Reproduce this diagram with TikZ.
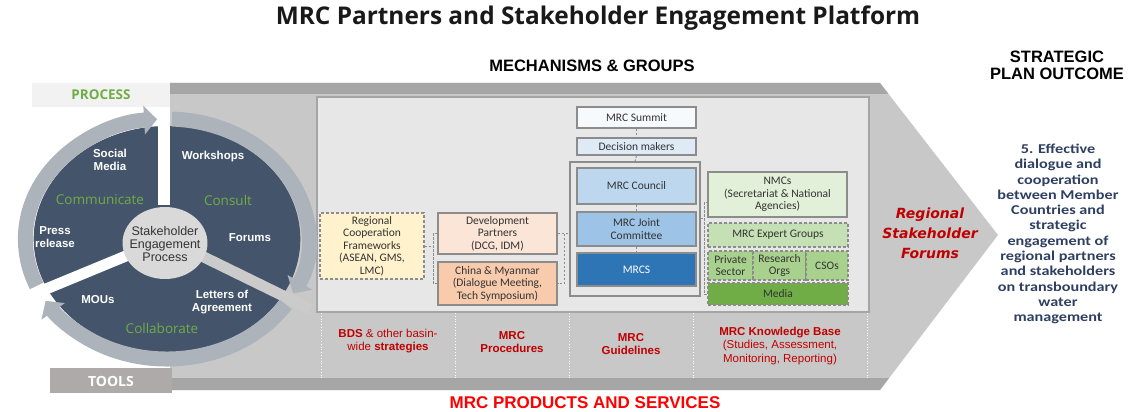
\documentclass[tikz,border=0pt]{standalone}
\usepackage{fontspec}
\usetikzlibrary{arrows.meta,calc}
\setmainfont{Carlito}
\newfontfamily\opensans{Open Sans}
\newfontfamily\arialfont{Liberation Sans}
\newfontfamily\verdfont{DejaVu Sans}
\newfontfamily\widecarlito[FakeStretch=1.2]{Carlito}
\definecolor{wheeldark}{HTML}{44546A}
\definecolor{ringgray}{HTML}{ADB3BB}
\definecolor{bodygray}{HTML}{C8C8C8}
\definecolor{stripgray}{HTML}{A6A6A6}
\definecolor{innerfill}{HTML}{E7E7E7}
\definecolor{innerline}{HTML}{A5A5A5}
\definecolor{boxline}{HTML}{8C8C8C}
\definecolor{boxtext}{HTML}{333333}
\definecolor{linkgray}{HTML}{8C8C8C}
\definecolor{greenword}{HTML}{70AD47}
\definecolor{prodred}{HTML}{C00000}
\definecolor{navytext}{HTML}{2E3F62}
\definecolor{centerfill}{HTML}{D9D9D9}
\definecolor{processfill}{HTML}{F2F2F2}
\definecolor{toolsfill}{HTML}{AEAAAA}
\definecolor{summitfill}{HTML}{F7FAFD}
\definecolor{decisionfill}{HTML}{DEEBF7}
\definecolor{councilfill}{HTML}{BDD7EE}
\definecolor{jcfill}{HTML}{9DC3E6}
\definecolor{mrcsfill}{HTML}{2E75B6}
\definecolor{nmcfill}{HTML}{E2F0D9}
\definecolor{expertfill}{HTML}{C5E0B4}
\definecolor{orgfill}{HTML}{A9D18E}
\definecolor{mediafill}{HTML}{70AD47}
\definecolor{rcffill}{HTML}{FFF2CC}
\definecolor{devpfill}{HTML}{FBE5D6}
\definecolor{chinafill}{HTML}{F8CBAD}
\tikzset{
  box/.style={draw=boxline, line width=1.3pt, align=center, inner sep=1pt,
    font=\fontsize{11.5}{12.5}\selectfont, text=boxtext},
  dbox/.style={box, dash pattern=on 3pt off 2pt},
  link/.style={draw=linkgray, line width=0.9pt, dash pattern=on 2.5pt off 1.5pt},
  ring/.style={draw=ringgray, line width=15pt, -{Triangle[width=28pt,length=13pt]}},
  wlabel/.style={text=white, font=\arialfont\bfseries\fontsize{11.5}{13}\selectfont, align=center},
  glabel/.style={text=greenword, font=\opensans\fontsize{13.5}{15}\selectfont},
  prod/.style={text=prodred, font=\arialfont\fontsize{11.5}{13.5}\selectfont, align=center},
  heading/.style={font=\arialfont\bfseries\fontsize{16.5}{17}\selectfont, align=center}
}
\begin{document}
\begin{tikzpicture}[x=1pt, y=-1pt]
  \useasboundingbox (0,0) rectangle (1133,412);
  % big arrow
  \fill[bodygray] (170,83) -- (880,83) -- (998,235) -- (880,390) -- (170,390) -- cycle;
  \fill[stripgray] (170,83) -- (880,83) -- (888.5,94) -- (170,94) -- cycle;
  \fill[stripgray] (170,378) -- (889,378) -- (880,390) -- (170,390) -- cycle;
  \draw[innerline, fill=innerfill, line width=1.5pt] (317,97) rectangle (869,312);
  \foreach \x in {321,455,569,693,867}
    \draw[white, dotted, line width=0.8pt] (\x,313) -- (\x,378);

  % wheel
  \fill[processfill] (32,83) rectangle (170,107);
  \fill[toolsfill] (50,368) rectangle (172,393);
  \begin{scope}[shift={(167,239)}, x=1.18pt, y=1pt]
    \fill[wheeldark] (0,0) circle[radius=113];
    \draw[white, line width=11pt] (0,0) -- (206:140);
    \draw[bodygray!95!white, line width=11pt] (0,0) -- (-30:140);
    \draw[ring] (203:120) arc[start angle=203, end angle=94, radius=120];
    \draw[ring] (88:120) arc[start angle=88, end angle=-27, radius=120];
    \draw[ring] (-33:120) arc[start angle=-33, end angle=-149, radius=120];
  \end{scope}
  \fill[white] (158,107) rectangle (170,205);
  \begin{scope}[shift={(165,243)}, x=1.18pt, y=1pt]
    \fill[centerfill] (0,0) circle[radius=36];
  \end{scope}
  \node[font=\opensans\bfseries\fontsize{13.5}{15}\selectfont, text=greenword] (process) at (101,95) {PROCESS};
  \node[font=\opensans\bfseries\fontsize{14}{15}\selectfont, text=white] (tools) at (111,381) {TOOLS};
  \node[font=\arialfont\fontsize{12.5}{13}\selectfont, align=center, text=boxtext] (sep) at (165,244) {Stakeholder\\Engagement\\Process};
  \node[wlabel] (social) at (110,160) {Social\\Media};
  \node[wlabel] (workshops) at (213,157) {Workshops};
  \node[wlabel] (press) at (55,237) {Press\\release};
  \node[wlabel] (forumsw) at (250,238) {Forums};
  \node[wlabel] (mous) at (98,300) {MOUs};
  \node[wlabel] (letters) at (222,302) {Letters of\\Agreement};
  \node[glabel] (communicate) at (100,200) {Communicate};
  \node[glabel] (consult) at (228,200) {Consult};
  \node[glabel] (collaborate) at (162,328) {Collaborate};

  % mechanisms and groups
  \node[box, fill=summitfill, minimum width=119pt, minimum height=21pt] (summit) at (636.5,117.5) {MRC Summit};
  \node[box, fill=decisionfill, minimum width=119pt, minimum height=17pt] (decision) at (636.5,146.5) {Decision makers};
  \node[box, minimum width=130pt, minimum height=134pt] (councilgrp) at (635,229) {};
  \node[box, fill=councilfill, minimum width=119pt, minimum height=36pt] (council) at (636.5,186) {MRC Council};
  \node[box, fill=jcfill, minimum width=119pt, minimum height=34pt] (jc) at (636.5,229) {MRC Joint\\Committee};
  \node[box, fill=mrcsfill, text=white, minimum width=119pt, minimum height=33pt] (mrcs) at (636.5,269.5) {MRCS};
  \node[box, fill=nmcfill, minimum width=139pt, minimum height=45pt] (nmc) at (777.5,194.5) {NMCs\\(Secretariat \& National\\Agencies)};
  \node[dbox, fill=expertfill, minimum width=140pt, minimum height=24pt] (expert) at (778,235) {MRC Expert Groups};
  \node[dbox, fill=orgfill, minimum width=45pt, minimum height=29pt] (private) at (730.5,265.5) {Private\\Sector};
  \node[dbox, fill=orgfill, minimum width=53pt, minimum height=29pt] (research) at (779.5,265.5) {Research\\Orgs};
  \node[dbox, fill=orgfill, minimum width=42pt, minimum height=29pt] (csos) at (827,265.5) {CSOs};
  \node[dbox, fill=mediafill, minimum width=140pt, minimum height=22pt] (media) at (778,294) {Media};
  \node[dbox, fill=rcffill, minimum width=104pt, minimum height=66pt] (rcf) at (372,246) {Regional\\Cooperation\\Frameworks\\(ASEAN, GMS,\\LMC)};
  \node[box, fill=devpfill, minimum width=119pt, minimum height=41pt] (devp) at (497.5,233.5) {Development\\Partners\\(DCG, IDM)};
  \node[box, fill=chinafill, minimum width=119pt, minimum height=43pt] (china) at (497.5,283.5) {China \& Myanmar\\(Dialogue Meeting,\\Tech Symposium)};

  % connectors
  \coordinate (lb) at (433,246);
  \coordinate (rb) at (564,233.5);
  \coordinate (nb) at (704,218);
  \coordinate (nt) at (708,202);
  \draw[link] (summit.south) -- (decision.north);
  \draw[link] (decision.south) -- (councilgrp.north);
  \draw[link] (council.south) -- (jc.north);
  \draw[link] (jc.south) -- (mrcs.north);
  \draw[link] (rcf.east |- lb) -- (lb);
  \draw[link] (devp.west) -| (lb) |- (china.west);
  \draw[link] (devp.east) -- (councilgrp.west |- devp.east);
  \draw[link] (rb) |- (china.east);
  \draw[link] (councilgrp.east |- nb) -- (nb);
  \draw[link] (nt) -| (nb) |- (media.west);

  % products and services
  \node[prod] (bds) at (388,341) {\textbf{BDS} \& other basin-\\wide \textbf{strategies}};
  \node[prod, font=\arialfont\bfseries\fontsize{11.5}{13.5}\selectfont] (procedures) at (512,342) {MRC\\Procedures};
  \node[prod, font=\arialfont\bfseries\fontsize{11.5}{13.5}\selectfont] (guidelines) at (631,344) {MRC\\Guidelines};
  \node[prod] (knowledge) at (780,346) {\textbf{MRC Knowledge Base}\\(Studies, Assessment,\\Monitoring, Reporting)};

  % headings
  \node[font=\opensans\bfseries\fontsize{24.4}{28}\selectfont, text=black!90] (title) at (598,18) {MRC Partners and Stakeholder Engagement Platform};
  \node[heading] (mech) at (592,66) {MECHANISMS \& GROUPS};
  \node[heading] (outhead) at (1057,65) {STRATEGIC\\PLAN OUTCOME};
  \node[heading, text=red, font=\arialfont\bfseries\fontsize{17}{18}\selectfont] (prodhead) at (585,403) {MRC PRODUCTS AND SERVICES};
  \node[font=\verdfont\bfseries\itshape\fontsize{14}{20}\selectfont, text=prodred, align=center] (forums) at (930,233) {Regional\\Stakeholder\\Forums};
  \node[font=\widecarlito\bfseries\fontsize{13.5}{15.3}\selectfont, text=navytext, align=center] (outcome) at (1058,234) {5. Effective\\dialogue and\\cooperation\\between Member\\Countries and\\strategic\\engagement of\\regional partners\\and stakeholders\\on transboundary\\water\\management};
\end{tikzpicture}
\end{document}
